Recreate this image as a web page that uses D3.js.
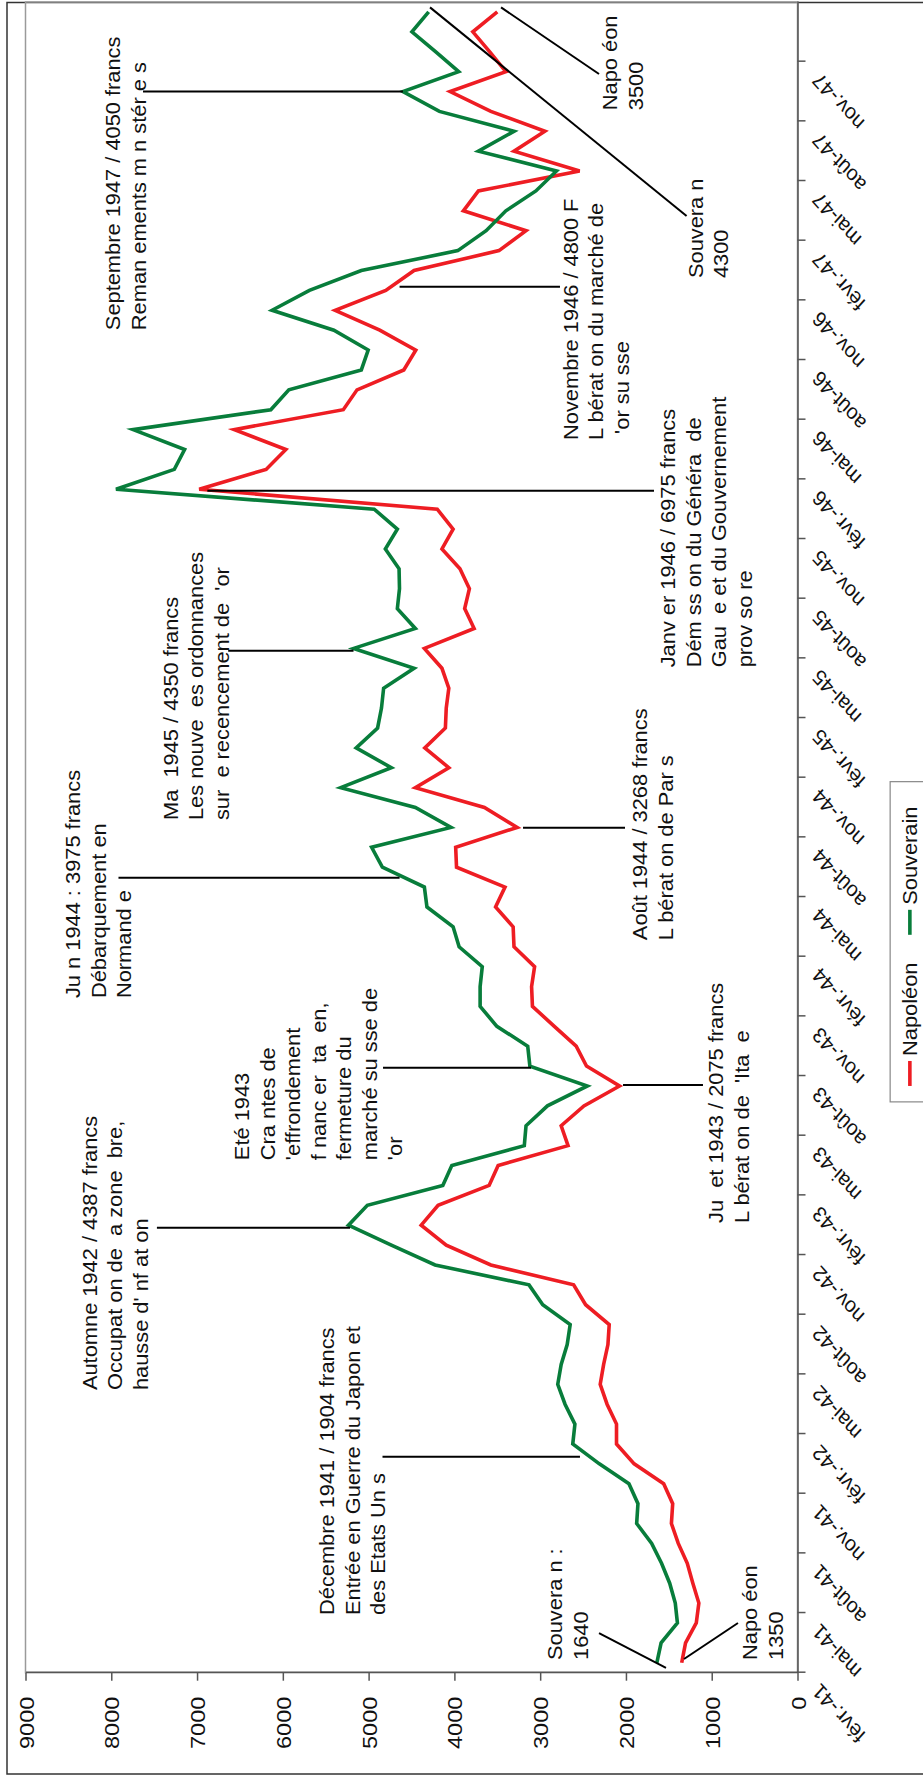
<!DOCTYPE html>
<html><head><meta charset="utf-8">
<script src="https://cdn.jsdelivr.net/npm/d3@7"></script>
<style>
body{margin:0;background:#fff}
svg{display:block}
text{font-family:"Liberation Sans",Arial,sans-serif;fill:#111;white-space:pre}
</style>
</head><body>
<svg id="c" width="923" height="1783"></svg>
<script>
// ---------- data ----------
const firstMonth = new Date(1941, 1, 1);   // févr. 1941
const endMonth   = new Date(1948, 1, 1);   // exclusive
const monthTickLabels = ["févr.-41","mai-41","août-41","nov.-41","févr.-42","mai-42","août-42","nov.-42",
  "févr.-43","mai-43","août-43","nov.-43","févr.-44","mai-44","août-44","nov.-44","févr.-45","mai-45",
  "août-45","nov.-45","févr.-46","mai-46","août-46","nov.-46","févr.-47","mai-47","août-47","nov.-47"];
const valueTicks = [0,1000,2000,3000,4000,5000,6000,7000,8000,9000];
const napoleon = [1350,1305,1180,1150,1220,1285,1390,1470,1455,1560,
  1904,2110,2110,2220,2300,2260,2210,2195,2470,2610,
  3575,4095,4387,4190,3595,3490,2675,2755,2490,2075,
  2460,2580,2835,3090,3100,3065,3305,3315,3520,3410,
  3975,3985,3268,3650,4455,4065,4345,4105,4095,4065,
  4145,4350,3770,3880,3825,3935,4145,4015,4200,6975,
  6195,5965,6565,5295,5135,4590,4450,4870,5390,4800,
  4470,3480,3165,3895,3720,2540,3305,2945,3575,4050,
  3400,3590,3785,3500];
const souverain = [1640,1590,1400,1425,1490,1585,1700,1875,1860,1965,
  2310,2620,2595,2710,2795,2755,2685,2650,2970,3130,
  4225,4735,5235,5015,4135,4030,3185,3165,2915,2450,
  3120,3145,3505,3700,3700,3675,3945,4015,4320,4350,
  4840,4965,4040,4455,5325,4735,5145,4895,4850,4825,
  4470,5175,4455,4665,4640,4645,4805,4665,4935,7945,
  7265,7145,7745,6140,5930,5085,5005,5405,6125,5690,
  5085,3960,3630,3400,3050,2810,3720,3305,4175,4600,
  3950,4220,4495,4300];
const seriesNames = ["Napoléon","Souverain"];
// annotations: t = month position of text start, v = value of first baseline
const annotations = [
  {t:67.5, v:7898, lines:["Septembre 1947 / 4050 francs","Reman ements m n stér e s"]},
  {t:61.98, v:2559, lines:["Novembre 1946 / 4800 F","L bérat on du marché de"," 'or su sse"]},
  {t:50.55, v:1428, lines:["Janv er 1946 / 6975 francs","Dém ss on du Généra  de","Gau  e et du Gouvernement","prov so re"]},
  {t:42.87, v:7225, lines:["Ma  1945 / 4350 francs","Les nouve  es ordonnances","sur  e recencement de  'or"]},
  {t:36.83, v:1754, lines:["Août 1944 / 3268 francs","L bérat on de Par s"]},
  {t:33.92, v:8359, lines:["Ju n 1944 : 3975 francs","Débarquement en","Normand e"]},
  {t:25.77, v:6394, lines:["Eté 1943","Cra ntes de","'effrondement","f nanc er  ta  en,","fermeture du","marché su sse de","'or"]},
  {t:22.61, v:868, lines:["Ju  et 1943 / 2075 francs","L bérat on de  'Ita  e"]},
  {t:14.21, v:8172, lines:["Automne 1942 / 4387 francs","Occupat on de  a zone  bre,","hausse d' nf at on"]},
  {t:2.90, v:5403, lines:["Décembre 1941 / 1904 francs","Entrée en Guerre du Japon et","des Etats Un s"]},
  {t:0.64, v:2745, lines:["Souvera n :","1640"]},
  {t:0.64, v:472, lines:["Napo éon","1350"]},
  {t:78.56, v:2104, lines:["Napo éon","3500"]},
  {t:70.12, v:1102, lines:["Souvera n","4300"]}
];
const leaders = [
  {t0:79.5, v0:7630, t1:79.5, v1:4600},
  {t0:69.68, v0:4639, t1:69.68, v1:2769},
  {t0:59.43, v0:6880, t1:59.43, v1:1673},
  {t0:51.38, v0:6637, t1:51.38, v1:5176},
  {t0:42.48, v0:3200, t1:42.48, v1:2011},
  {t0:39.97, v0:7916, t1:39.97, v1:4639},
  {t0:30.42, v0:4832, t1:30.42, v1:3107},
  {t0:29.55, v0:2034, t1:29.55, v1:1102},
  {t0:22.37, v0:7468, t1:22.37, v1:5217},
  {t0:10.86, v0:4838, t1:10.86, v1:2536},
  {t0:1.99, v0:2314, t1:0.24, v1:1533},
  {t0:2.50, v0:694, t1:0.69, v1:1323},
  {t0:83.73, v0:3456, t1:80.38, v1:2314},
  {t0:83.73, v0:4284, t1:73.24, v1:1293}
];

// ---------- drawing ----------
const W = 923, H = 1783;
const colors = ["#ee1d23", "#087d3b"];
const svg = d3.select("#c");
svg.append("rect").attr("x",7).attr("y",2.5).attr("width",1000).attr("height",1771.5)
  .attr("fill","none").attr("stroke","#333").attr("stroke-width",1.5);

// landscape chart, rotated -90°
const g = svg.append("g").attr("transform", `translate(0,${H}) rotate(-90)`);
const xL = 110.3, xR = 1781, yT = 25.5, yB = 797.5;
const months = d3.timeMonth.range(firstMonth, endMonth);
const x = d3.scaleBand().domain(months).range([xL, xR]);
const tS = d3.scaleLinear().domain([0, months.length]).range([xL, xR]);
const y = d3.scaleLinear().domain([0, 9000]).range([yB, yT]);
const SX = 1.12, FS = 19.5;

// plot area border
g.append("rect").attr("x", xL).attr("y", yT).attr("width", xR - xL).attr("height", yB - yT)
  .attr("fill","none").attr("stroke","#9a9a9a").attr("stroke-width",1.5);

// value axis
const ya = g.append("g").attr("transform", `translate(${xL},0)`)
  .call(d3.axisLeft(y).tickValues(valueTicks).tickSize(8).tickSizeOuter(0).tickFormat(d3.format("d")));
ya.select(".domain").attr("stroke","#555").attr("stroke-width",1.5);
ya.selectAll(".tick line").attr("stroke","#555").attr("stroke-width",1.5);
ya.selectAll(".tick text").attr("x",null).attr("dy","0.36em").attr("text-anchor","end")
  .attr("font-size",21).attr("fill","#111")
  .attr("transform", `translate(-24,0) scale(${SX},1)`);

// time axis
const xa = g.append("g").attr("transform", `translate(0,${yB})`)
  .call(d3.axisBottom(tS).tickValues(d3.range(0, months.length, 3)).tickSize(8).tickSizeOuter(0)
    .tickFormat((d, i) => monthTickLabels[i]));
xa.select(".domain").attr("stroke","#555").attr("stroke-width",1.5);
xa.selectAll(".tick line").attr("stroke","#555").attr("stroke-width",1.5);
xa.selectAll(".tick text").attr("y",null).attr("dy",null).attr("text-anchor","end")
  .attr("font-size",FS).attr("fill","#111")
  .attr("transform", `translate(-10,23) scale(${SX},1) rotate(-45)`);

// series
const line = d3.line().x((d, i) => x(months[i]) + x.bandwidth() / 2).y(d => y(d));
[napoleon, souverain].forEach((s, k) => {
  g.append("path").datum(s).attr("d", line).attr("fill","none")
    .attr("stroke", colors[k]).attr("stroke-width", 3.6).attr("stroke-linejoin","miter");
});

// leaders
g.selectAll("line.leader").data(leaders).join("line").attr("class","leader")
  .attr("x1", d => tS(d.t0)).attr("y1", d => y(d.v0))
  .attr("x2", d => tS(d.t1)).attr("y2", d => y(d.v1))
  .attr("stroke","#000").attr("stroke-width",2);

// annotation texts
annotations.forEach(a => {
  a.lines.forEach((l, k) => {
    g.append("text").attr("font-size", FS)
      .attr("transform", `translate(${tS(a.t)},${y(a.v) + k * 25.5}) scale(${SX},1)`)
      .text(l);
  });
});

// legend (single row in the landscape frame)
const lg = g.append("g");
const lx0 = tS(28.7), lx1 = tS(44.8);
lg.append("rect").attr("x", lx0).attr("y", y(-1080)).attr("width", lx1 - lx0).attr("height", 120)
  .attr("fill","#fff").attr("stroke","#888").attr("stroke-width",1.2);
seriesNames.forEach((n, k) => {
  const sx = tS(29.5 + k * 7.6);
  lg.append("line").attr("x1", sx).attr("x2", sx + 25).attr("y1", y(-1310)).attr("y2", y(-1310))
    .attr("stroke", colors[k]).attr("stroke-width", 3.6);
  lg.append("text").attr("font-size", FS)
    .attr("transform", `translate(${sx + 30},${y(-1310) + 7}) scale(${SX},1)`).text(n);
});
</script>
</body></html>
